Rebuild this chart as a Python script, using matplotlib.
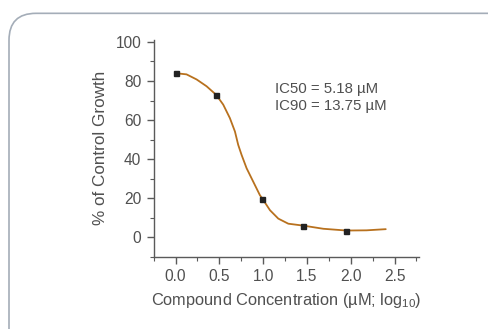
import matplotlib
matplotlib.use('Agg')
import matplotlib.pyplot as plt
from matplotlib.patches import FancyBboxPatch

# measured points (log10 concentration, % of control growth)
conc_log = [0.01, 0.46, 0.99, 1.46, 1.95]
growth = [84.2, 72.9, 19.8, 5.9, 3.3]

# fitted curve
fit_x = [0.0, 0.125, 0.24, 0.354, 0.464, 0.544, 0.62, 0.678, 0.715, 0.754,
         0.811, 0.887, 0.963, 0.99, 1.078, 1.173, 1.287, 1.46, 1.687, 1.95,
         2.18, 2.40]
fit_y = [84.0, 83.4, 80.8, 77.3, 72.9, 67.9, 61.0, 54.1, 47.3, 42.1,
         35.3, 28.4, 21.5, 19.8, 13.8, 9.5, 6.9, 5.9, 4.3, 3.4,
         3.5, 4.1]

x_ticks = [0.0, 0.5, 1.0, 1.5, 2.0, 2.5]
y_ticks = [0, 20, 40, 60, 80, 100]
ic_text = 'IC50 = 5.18 µM\nIC90 = 13.75 µM'

plt.rcParams['font.family'] = ['Liberation Sans', 'DejaVu Sans']
plt.rcParams['mathtext.default'] = 'regular'
text_col = '#505050'
axis_col = '#5a5a5a'

fig = plt.figure(figsize=(4.89, 3.29), dpi=100)

# rounded frame around the chart
frame = FancyBboxPatch((9 / 489, -30 / 329), 520 / 489, (329 - 13 + 30) / 329 - 0.001,
                       boxstyle='round,pad=0,rounding_size=0.055',
                       transform=fig.transFigure, facecolor='none',
                       edgecolor='#a4adb8', linewidth=1.2, mutation_aspect=489 / 329)
fig.patches.append(frame)

ax = fig.add_axes([0.3143, 0.2198, 0.5426, 0.6586])
ax.patch.set_alpha(0)

ax.plot(fit_x, fit_y, color='#b8711e', linewidth=1.3,
        solid_capstyle='round', solid_joinstyle='round')
ax.plot(conc_log, growth, linestyle='none', marker='s', markersize=3.6,
        color='#222222')

ax.set_xlim(-0.25, 2.78)
ax.set_ylim(-10, 101)
ax.set_xticks(x_ticks)
ax.set_xticklabels([f'{v:.1f}' for v in x_ticks])
ax.set_xticks([v * 0.25 for v in range(-1, 12)], minor=True)
ax.set_yticks(y_ticks)
ax.set_yticks(list(range(-10, 101, 10)), minor=True)

for s in ['top', 'right']:
    ax.spines[s].set_visible(False)
for s in ['left', 'bottom']:
    ax.spines[s].set_color(axis_col)
    ax.spines[s].set_linewidth(1.0)

ax.tick_params(which='major', length=5, width=1.0, color=axis_col,
               labelsize=11.2, labelcolor=text_col, pad=4)
ax.tick_params(which='minor', length=3, width=0.8, color=axis_col)

ax.set_xlabel('Compound Concentration (µM; log$_{10}$)', fontsize=11.8,
              color=text_col, labelpad=5)
ax.set_ylabel('% of Control Growth', fontsize=12.3, color=text_col, labelpad=5)

ax.text(1.135, 79.5, ic_text, fontsize=10.8, color=text_col, va='top', ha='left',
        linespacing=1.25)

fig.savefig('out.png', dpi=100)
